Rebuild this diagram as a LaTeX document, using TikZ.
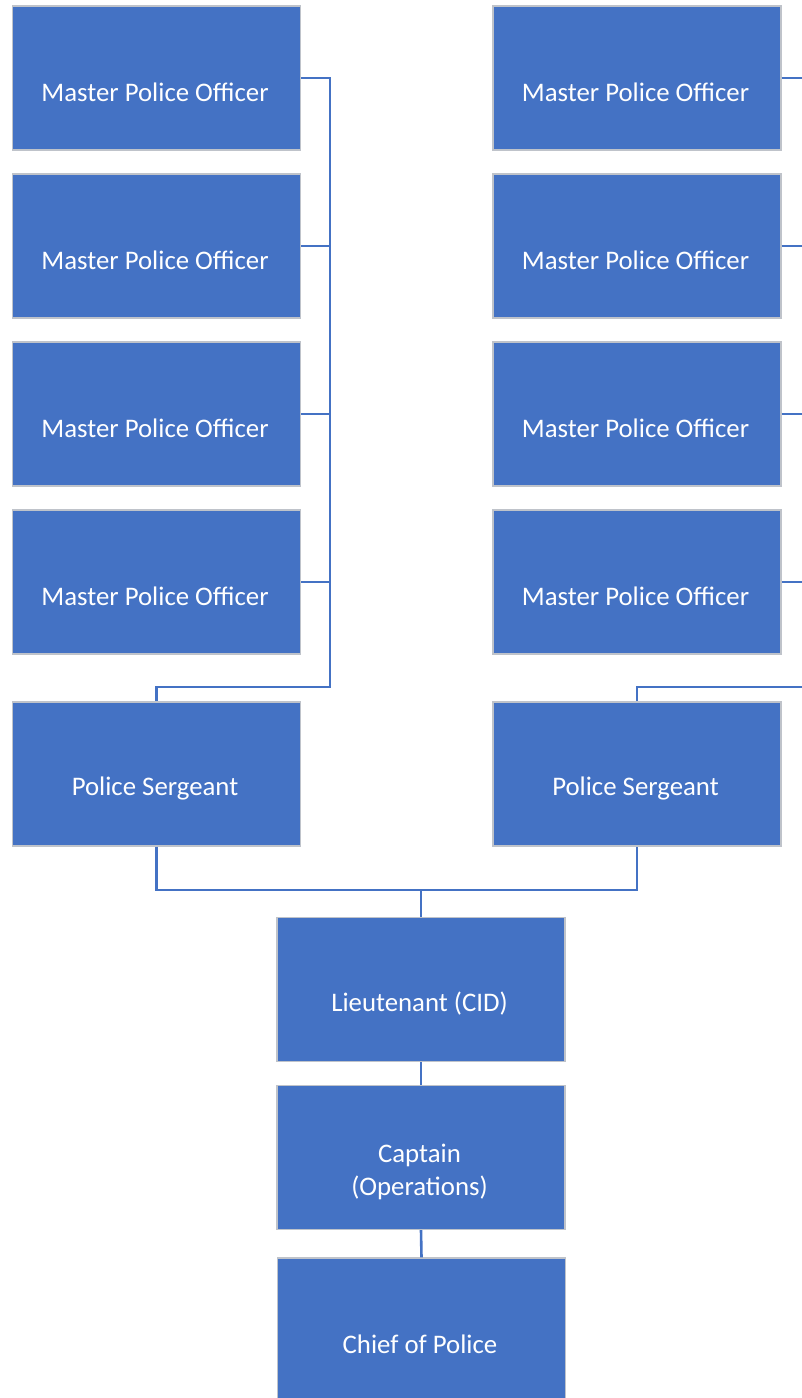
\documentclass[tikz,border=0pt]{standalone}
\usepackage{fontspec}
\setmainfont{Carlito}
\definecolor{boxblue}{HTML}{4472C4}
\definecolor{boxedge}{HTML}{BFC3CA}
\tikzset{
  orgbox/.style={rectangle, fill=boxblue, draw=boxedge, line width=1.3pt,
    minimum width=288pt, minimum height=144pt, inner sep=0pt},
  conn/.style={draw=boxblue, line width=2.6pt},
  boxtext/.style={text=white, font=\fontsize{26.8}{33}\selectfont, align=center, yshift=-14.5pt, xshift=-1.5pt},
  boxlabel/.style={label={[boxtext]center:#1}}
}
\begin{document}
\begin{tikzpicture}[x=1pt,y=-1pt]
\useasboundingbox (0,0) rectangle (802,1398);
\begin{scope}
\clip (0,0) rectangle (802,1398);
% left column
\node[orgbox,boxlabel={Master Police Officer}] (lm1) at (156.5,78) {};
\node[orgbox,boxlabel={Master Police Officer}] (lm2) at (156.5,246) {};
\node[orgbox,boxlabel={Master Police Officer}] (lm3) at (156.5,414) {};
\node[orgbox,boxlabel={Master Police Officer}] (lm4) at (156.5,582) {};
\node[orgbox,boxlabel={Police Sergeant}] (ls) at (156.5,774) {};
% right column
\node[orgbox,boxlabel={Master Police Officer}] (rm1) at (637,78) {};
\node[orgbox,boxlabel={Master Police Officer}] (rm2) at (637,246) {};
\node[orgbox,boxlabel={Master Police Officer}] (rm3) at (637,414) {};
\node[orgbox,boxlabel={Master Police Officer}] (rm4) at (637,582) {};
\node[orgbox,boxlabel={Police Sergeant}] (rs) at (637,774) {};
% center
\node[orgbox,boxlabel={Lieutenant (CID)}] (lt) at (421,989.5) {};
\node[orgbox,boxlabel={Captain\\(Operations)}] (cap) at (421,1157.5) {};
\node[orgbox,boxlabel={Chief of Police}] (chief) at (421.5,1330) {};
% junction coordinates
\coordinate (lj) at (330,687);
\coordinate (rj) at (802,687);
\coordinate (bj) at (421,890);
% left connectors
\draw[conn] (lm1.east) -| (lj) -| (ls.north);
\draw[conn] (lm2.east) -- (lm2.east -| lj);
\draw[conn] (lm3.east) -- (lm3.east -| lj);
\draw[conn] (lm4.east) -- (lm4.east -| lj);
% right connectors
\draw[conn] (rm1.east) -- (rm1.east -| rj);
\draw[conn] (rm2.east) -- (rm2.east -| rj);
\draw[conn] (rm3.east) -- (rm3.east -| rj);
\draw[conn] (rm4.east) -- (rm4.east -| rj);
\draw[conn] (rj) -| (rs.north);
% lower connectors
\draw[conn] (ls.south) |- (bj) -| (rs.south);
\draw[conn] (bj) -- (lt.north);
\draw[conn] (lt.south) -- (cap.north);
\draw[conn] (cap.south) -- (chief.north);
\end{scope}
\end{tikzpicture}
\end{document}
